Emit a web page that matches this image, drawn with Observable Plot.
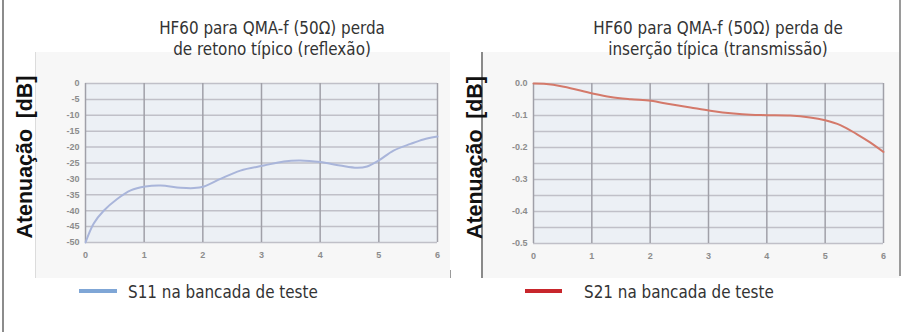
<!DOCTYPE html>
<html>
<head>
<meta charset="utf-8">
<script src="https://cdn.jsdelivr.net/npm/d3@7"></script>
<script src="https://cdn.jsdelivr.net/npm/@observablehq/plot@0.6"></script>
<style>
  html, body { margin: 0; padding: 0; background: #fff; }
  #root { position: relative; width: 903px; height: 332px; overflow: hidden; background: #fff; }
  .abs { position: absolute; }
  .title { position: absolute; width: 340px; text-align: center; line-height: 21px; color: #333; white-space: nowrap; }
  .leg { position: absolute; line-height: 22px; color: #333; white-space: nowrap; }
</style>
</head>
<body>
<div id="root"></div>
<script>
// ---- data ----
const freqTicks = [0, 1, 2, 3, 4, 5, 6];

const s11Freq = [0, 0.14, 0.31, 0.54, 0.77, 1.02, 1.28, 1.62, 1.85, 2.02, 2.3, 2.64, 3.04, 3.38, 3.66, 4.0, 4.34, 4.63, 4.8, 5.0, 5.25, 5.54, 5.76, 6.0];
const s11Values = [-50, -44, -40, -36.3, -33.6, -32.4, -32.1, -32.8, -32.9, -32.4, -30, -27.4, -25.8, -24.5, -24.2, -24.7, -25.8, -26.5, -26.1, -24.2, -21.1, -19, -17.6, -16.7];
const s11Ticks = [0, -5, -10, -15, -20, -25, -30, -35, -40, -45, -50];

const s21Freq = [0, 0.18, 0.52, 1.01, 1.32, 1.67, 2.01, 2.35, 2.69, 3.03, 3.43, 3.72, 4.0, 4.4, 4.74, 5.0, 5.26, 5.54, 5.77, 6.0];
const s21Values = [0, -0.001, -0.01, -0.031, -0.042, -0.049, -0.054, -0.065, -0.075, -0.085, -0.094, -0.098, -0.099, -0.1, -0.106, -0.115, -0.13, -0.158, -0.184, -0.214];
const s21Ticks = [0, -0.1, -0.2, -0.3, -0.4, -0.5];
const s21TickLabels = ["0.0", "-0.1", "-0.2", "-0.3", "-0.4", "-0.5"];
const s21Grid = [0, -0.05, -0.1, -0.15, -0.2, -0.25, -0.3, -0.35, -0.4, -0.45, -0.5];

const titleLeft = ["HF60 para QMA-f (50Ω) perda", "de retono típico (reflexão)"];
const titleRight = ["HF60 para QMA-f (50Ω) perda de", "inserção típica (transmissão)"];
const yLabel = "Atenuação\u2002[dB]";
const legendLeft = "S11 na bancada de teste";
const legendRight = "S21 na bancada de teste";

const colorS11 = "#a9b5da";
const colorS21 = "#d4796a";
const swatchS11 = "#7fa6d6";
const swatchS21 = "#c8262c";

// ---- font helpers ----
const ctx = document.createElement("canvas").getContext("2d");
function measure(text, font) { ctx.font = font; return ctx.measureText(text).width; }
function hasFont(name) {
  const probe = "abcdefghijklmnopqrstuvwxyz0123456789";
  return measure(probe, `40px '${name}', monospace`) !== measure(probe, "40px monospace") ||
         measure(probe, `40px '${name}', serif`) !== measure(probe, "40px serif");
}
const narrowFamily = ["Liberation Sans Narrow", "DejaVu Sans Condensed", "Roboto", "Open Sans", "Liberation Sans"].find(hasFont) || "sans-serif";
const textFont = `'${narrowFamily}', sans-serif`;
function fit(text, family, weight, target) {
  const w = measure(text, `${weight} 100px ${family}`);
  return 100 * target / w;
}
const textSize = fit(titleLeft[0], textFont, "normal", 226);
const labelFont = "'Liberation Sans', 'DejaVu Sans', sans-serif";
const labelSize = Math.min(23, fit(yLabel, labelFont, "bold", 163));

// ---- layout helpers ----
const root = document.getElementById("root");
function box(l, t, w, h, bg) {
  const d = document.createElement("div");
  d.className = "abs";
  Object.assign(d.style, {left: l + "px", top: t + "px", width: w + "px", height: h + "px", background: bg});
  root.appendChild(d);
  return d;
}

// panel backgrounds and frame lines
box(35, 52, 415, 226, "#f7f7f7");
box(483, 52, 417, 226, "#f7f7f7");
box(2, 0, 1.5, 332, "#8c8c8c");
box(35, 52, 1, 226, "#dcdcdc");
box(481, 52, 1.5, 226, "#8a8a8a");
box(899, 0, 1.5, 276, "#9a9a9a");
box(450, 270, 1, 8, "#9a9a9a");

const common = {
  width: 450,
  height: 226,
  marginTop: 31,
  x: {domain: [0, 6]},
  style: {background: "transparent", color: "#8c8c8c", fontSize: "9px", fontWeight: "bold", fontFamily: "'Liberation Sans', sans-serif", overflow: "visible"}
};

function panel({freq, values, yDomain, grid, ticks, tickFormat, stroke, marginLeft, marginRight, marginBottom}) {
  const data = freq.map((f, i) => ({f, v: values[i]}));
  return Plot.plot({
    ...common,
    marginLeft, marginRight, marginBottom,
    y: {domain: yDomain},
    marks: [
      Plot.frame({fill: "#ecf0f5", stroke: null}),
      Plot.ruleY(grid, {stroke: "#c0c0c8", strokeWidth: 1.5}),
      Plot.ruleX(freqTicks, {stroke: "#a0a0a8", strokeWidth: 1.5}),
      Plot.axisX(freqTicks, {tickSize: 0, tickPadding: 9, label: null}),
      Plot.axisY(ticks, {tickSize: 0, tickPadding: 6, label: null, tickFormat}),
      Plot.line(data, {x: "f", y: "v", curve: "catmull-rom", stroke, strokeWidth: 2}),
      Plot.text([yLabel], {
        frameAnchor: "left", textAnchor: "middle", lineAnchor: "middle",
        text: d => d, rotate: -90, dx: -(marginLeft - 25), dy: -6,
        fontSize: labelSize, fontWeight: "bold", fill: "#111", fontFamily: labelFont
      })
    ]
  });
}

const left = panel({
  freq: s11Freq, values: s11Values, yDomain: [-50, 0], grid: s11Ticks, ticks: s11Ticks,
  tickFormat: d => String(d), stroke: colorS11, marginLeft: 85, marginRight: 13, marginBottom: 36
});
Object.assign(left.style, {position: "absolute", left: "0px", top: "52px"});
root.appendChild(left);

const right = panel({
  freq: s21Freq, values: s21Values, yDomain: [-0.5, 0], grid: s21Grid, ticks: s21Ticks,
  tickFormat: (d, i) => s21TickLabels[i], stroke: colorS21, marginLeft: 83, marginRight: 17, marginBottom: 35
});
Object.assign(right.style, {position: "absolute", left: "450px", top: "52px"});
root.appendChild(right);

// titles
function title(lines, cx) {
  const d = document.createElement("div");
  d.className = "title";
  d.style.left = (cx - 170) + "px";
  d.style.top = "18px";
  d.style.fontFamily = textFont;
  d.style.fontSize = textSize + "px";
  d.innerHTML = lines.map(s => `<div>${s}</div>`).join("");
  root.appendChild(d);
}
title(titleLeft, 272);
title(titleRight, 718);

// legends
box(79, 289, 38, 4, swatchS11);
box(525, 289, 37, 4, swatchS21);
function legendText(txt, l) {
  const d = document.createElement("div");
  d.className = "leg";
  d.style.left = l + "px";
  d.style.top = "281px";
  d.style.fontFamily = textFont;
  d.style.fontSize = textSize + "px";
  d.textContent = txt;
  root.appendChild(d);
}
legendText(legendLeft, 128);
legendText(legendRight, 584);
</script>
</body>
</html>
